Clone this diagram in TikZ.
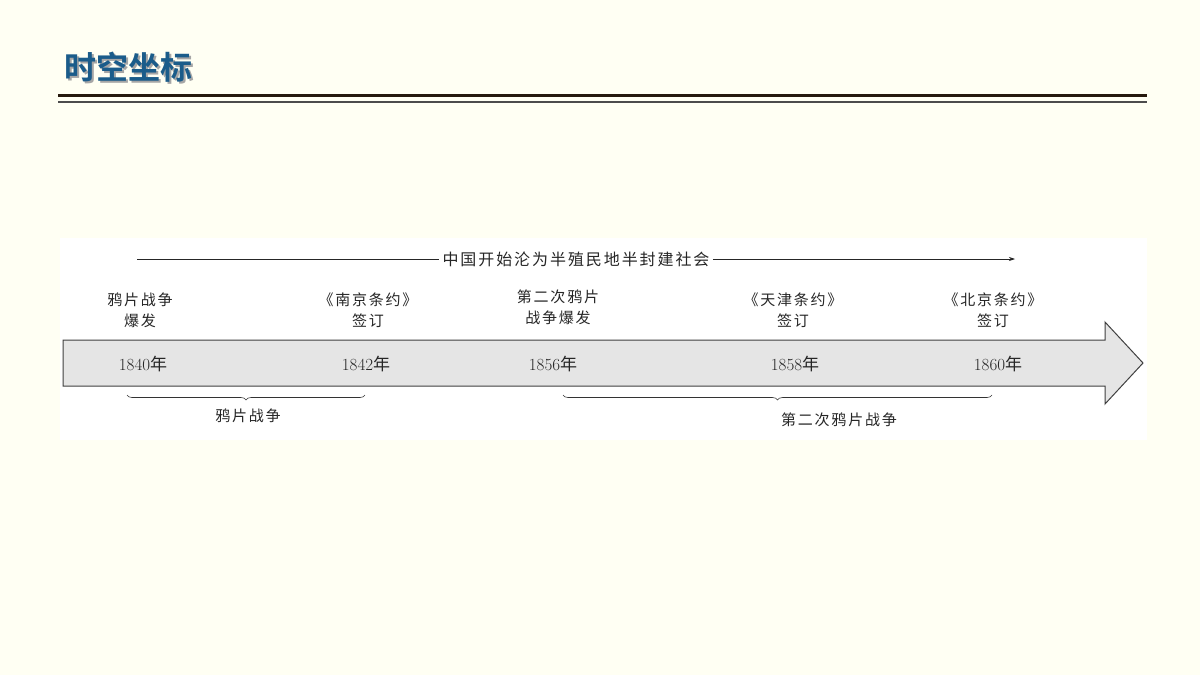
\documentclass[tikz,border=0pt]{standalone}
\usepackage{fontspec}
\newfontfamily\cjk[LetterSpace=12]{Noto Sans CJK SC}
\newfontfamily\cjky{Noto Sans CJK SC}
\newfontfamily\cjkb{Noto Sans CJK SC Bold}
\usetikzlibrary{decorations.pathreplacing,arrows.meta}
\definecolor{bg}{HTML}{FFFFF3}
\definecolor{ttl}{HTML}{1B5C8A}
\begin{document}
\begin{tikzpicture}[x=1pt,y=-1pt,
  lbl/.style={font=\cjk\fontsize{15}{21}\selectfont, align=center, text=black!85},
  yr/.style={font=\fontsize{17}{20}\selectfont, text=black!85},
  br/.style={decorate, decoration={brace, mirror, amplitude=5pt}, draw=black!80, line width=0.6pt}]
\useasboundingbox (0,0) rectangle (1200,675);
\fill[bg] (0,0) rectangle (1200,675);
\node[font=\cjkb\fontsize{32}{36}\selectfont, text=black!35, anchor=west] at (63,69) {时空坐标};
\node[font=\cjkb\fontsize{32}{36}\selectfont, text=ttl, anchor=west] (title) at (61,67) {时空坐标};
\draw[line width=3pt, draw=black!80!brown] (58,95) -- (1147,95);
\draw[line width=1.3pt, draw=black!70] (58,102) -- (1147,102);
\fill[white] (60,238) rectangle (1147,440);
\node[lbl, font=\cjk\fontsize{16}{20}\selectfont] (era) at (576,259) {中国开始沦为半殖民地半封建社会};
\coordinate (ls) at (137,259);
\coordinate (re) at (1015,259);
\draw[black!85, line width=0.7pt] (ls) -- (era.west);
\draw[black!85, line width=0.7pt, -{Stealth[length=6pt,width=4pt]}] (era.east) -- (re);
\draw[fill=black!10, draw=black!75, line width=1pt] (63,340) -- (1105,340) -- (1105,322) -- (1143,363) -- (1105,404) -- (1105,386) -- (63,386) -- cycle;
\node[yr] (y1) at (143,364) {1840{\cjky 年}};
\node[yr] (y2) at (366,364) {1842{\cjky 年}};
\node[yr] (y3) at (553,364) {1856{\cjky 年}};
\node[yr] (y4) at (795,364) {1858{\cjky 年}};
\node[yr] (y5) at (998,364) {1860{\cjky 年}};
\node[lbl] (a1) at (140,310) {鸦片战争\\爆发};
\node[lbl] (a2) at (368,310) {《南京条约》\\签订};
\node[lbl] (a3) at (558,307) {第二次鸦片\\战争爆发};
\node[lbl] (a4) at (793,310) {《天津条约》\\签订};
\node[lbl] (a5) at (993,310) {《北京条约》\\签订};
\coordinate (b1s) at (127,395); \coordinate (b1e) at (365,395);
\coordinate (b2s) at (563,395); \coordinate (b2e) at (992,395);
\draw[br] (b1s) -- (b1e);
\draw[br] (b2s) -- (b2e);
\node[lbl] (w1) at (248,416) {鸦片战争};
\node[lbl] (w2) at (839,420) {第二次鸦片战争};
\end{tikzpicture}
\end{document}
